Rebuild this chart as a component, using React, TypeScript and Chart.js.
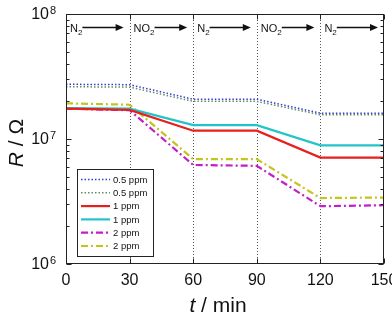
import React, { useEffect, useRef } from "react";
import { Chart, registerables } from "chart.js";
Chart.register(...registerables);

const times = [0, 30, 60, 90, 120, 150];
const blue05 = [2.74e7, 2.72e7, 2.08e7, 2.08e7, 1.61e7, 1.61e7];
const green05 = [2.62e7, 2.6e7, 2.0e7, 2.0e7, 1.56e7, 1.56e7];
const red1 = [1.75e7, 1.71e7, 1.165e7, 1.165e7, 7.1e6, 7.1e6];
const cyan1 = [1.77e7, 1.75e7, 1.29e7, 1.29e7, 8.9e6, 8.9e6];
const magenta2 = [1.75e7, 1.7e7, 6.2e6, 6.1e6, 2.9e6, 2.95e6];
const yellow2 = [1.93e7, 1.88e7, 6.9e6, 6.9e6, 3.37e6, 3.4e6];
const seriesLabels = ["0.5 ppm", "0.5 ppm", "1 ppm", "1 ppm", "2 ppm", "2 ppm"];
const xTicks = [0, 30, 60, 90, 120, 150];
const gridTimes = [30, 60, 90, 120];
const yExponents = [6, 7, 8];
const gasSteps = ["N", "NO", "N", "NO", "N"];
const stepStarts = [0, 30, 60, 90, 120];

const FONT = '"Liberation Sans", Arial, Helvetica, sans-serif';

const styles = [
  { color: "#3a3acc", width: 1.5, dash: [1.5, 2] },
  { color: "#5e8f64", width: 1.5, dash: [1.5, 2] },
  { color: "#e6201c", width: 2.2, dash: [] as number[] },
  { color: "#22c4c8", width: 2.2, dash: [] as number[] },
  { color: "#c41ec8", width: 2.2, dash: [7, 3, 2, 3] },
  { color: "#c4c41e", width: 2.2, dash: [7, 3, 2, 3] },
];

const seriesData = [blue05, green05, red1, cyan1, magenta2, yellow2];

const overlay = {
  id: "overlay",
  beforeDatasetsDraw(chart: any) {
    const { ctx, chartArea: a, scales } = chart;
    const x = scales.x;
    ctx.save();
    ctx.strokeStyle = "#555";
    ctx.lineWidth = 1;
    ctx.setLineDash([1, 2]);
    for (const t of gridTimes) {
      const px = Math.round(x.getPixelForValue(t)) + 0.5;
      ctx.beginPath();
      ctx.moveTo(px, a.top);
      ctx.lineTo(px, a.bottom);
      ctx.stroke();
    }
    ctx.restore();
  },
  afterDatasetsDraw(chart: any) {
    const { ctx, chartArea: a, scales } = chart;
    const x = scales.x;
    const y = scales.y;
    ctx.save();
    ctx.setLineDash([]);
    ctx.strokeStyle = "#222";
    ctx.lineWidth = 1;
    const L = Math.round(a.left) + 0.5;
    const R = Math.round(a.right) - 0.5;
    const T = Math.round(a.top) + 0.5;
    const B = Math.round(a.bottom) - 0.5;
    ctx.strokeRect(L, T, R - L, B - T);

    // x ticks
    ctx.beginPath();
    for (const t of xTicks) {
      const px = Math.round(x.getPixelForValue(t)) + 0.5;
      ctx.moveTo(px, B);
      ctx.lineTo(px, B - 5);
      ctx.moveTo(px, T);
      ctx.lineTo(px, T + 5);
    }
    // y ticks (major + minor)
    for (let e = 6; e < 8; e++) {
      for (let m = 1; m <= 9; m++) {
        const v = m * Math.pow(10, e);
        const py = Math.round(y.getPixelForValue(v)) + 0.5;
        const len = m === 1 ? 5 : 3;
        ctx.moveTo(L, py);
        ctx.lineTo(L + len, py);
        ctx.moveTo(R, py);
        ctx.lineTo(R - len, py);
      }
    }
    ctx.stroke();

    // x labels
    ctx.fillStyle = "#111";
    ctx.font = `16px ${FONT}`;
    ctx.textAlign = "center";
    ctx.textBaseline = "middle";
    for (const t of xTicks) {
      ctx.fillText(String(t), x.getPixelForValue(t), 281);
    }
    // y labels
    for (const e of yExponents) {
      const py = y.getPixelForValue(Math.pow(10, e));
      ctx.font = `16px ${FONT}`;
      ctx.textAlign = "right";
      ctx.textBaseline = "middle";
      ctx.fillText("10", 49, py + 1);
      ctx.font = `11px ${FONT}`;
      ctx.textAlign = "left";
      ctx.textBaseline = "alphabetic";
      ctx.fillText(String(e), 50, py);
    }

    // axis titles
    ctx.textBaseline = "alphabetic";
    ctx.font = `italic 21px ${FONT}`;
    const tW = ctx.measureText("t").width;
    ctx.font = `21px ${FONT}`;
    const restX = " / min";
    const rW = ctx.measureText(restX).width;
    const xStart = 218 - (tW + rW) / 2;
    ctx.font = `italic 21px ${FONT}`;
    ctx.textAlign = "left";
    ctx.fillText("t", xStart, 312);
    ctx.font = `21px ${FONT}`;
    ctx.fillText(restX, xStart + tW, 312);

    ctx.save();
    ctx.translate(23, 143);
    ctx.rotate(-Math.PI / 2);
    ctx.font = `italic 21px ${FONT}`;
    const rr = ctx.measureText("R").width;
    ctx.font = `21px ${FONT}`;
    const restY = " / Ω";
    const ry = ctx.measureText(restY).width;
    const ys = -(rr + ry) / 2;
    ctx.font = `italic 21px ${FONT}`;
    ctx.fillText("R", ys, 0);
    ctx.font = `21px ${FONT}`;
    ctx.fillText(restY, ys + rr, 0);
    ctx.restore();

    // gas annotations
    const ay = 27.5;
    ctx.fillStyle = "#111";
    ctx.strokeStyle = "#111";
    ctx.lineWidth = 1.5;
    stepStarts.forEach((s, i) => {
      const x0 = x.getPixelForValue(s) + 4;
      ctx.font = `11px ${FONT}`;
      ctx.textAlign = "left";
      ctx.textBaseline = "alphabetic";
      ctx.fillText(gasSteps[i], x0, ay + 4);
      const w = ctx.measureText(gasSteps[i]).width;
      ctx.font = `8px ${FONT}`;
      ctx.fillText("2", x0 + w, ay + 7);
      const w2 = ctx.measureText("2").width;
      const ax0 = x0 + w + w2;
      const ax1 = x.getPixelForValue(s + 30) - 6;
      ctx.beginPath();
      ctx.moveTo(ax0, ay);
      ctx.lineTo(ax1 - 7, ay);
      ctx.stroke();
      ctx.beginPath();
      ctx.moveTo(ax1, ay);
      ctx.lineTo(ax1 - 8, ay - 3.5);
      ctx.lineTo(ax1 - 8, ay + 3.5);
      ctx.closePath();
      ctx.fill();
    });

    // legend
    const lx = 77.5, lyTop = 169.5, lw = 76, lh = 87;
    ctx.fillStyle = "#fff";
    ctx.fillRect(lx, lyTop, lw, lh);
    ctx.strokeStyle = "#222";
    ctx.lineWidth = 1;
    ctx.setLineDash([]);
    ctx.strokeRect(lx, lyTop, lw, lh);
    chart.data.datasets.forEach((ds: any, i: number) => {
      const ry2 = 179.5 + i * 13.3;
      ctx.strokeStyle = ds.borderColor;
      ctx.lineWidth = ds.borderWidth;
      ctx.setLineDash(ds.borderDash || []);
      ctx.beginPath();
      ctx.moveTo(81, ry2);
      ctx.lineTo(110, ry2);
      ctx.stroke();
      ctx.setLineDash([]);
      ctx.fillStyle = "#111";
      ctx.font = `9.5px ${FONT}`;
      ctx.textAlign = "left";
      ctx.textBaseline = "middle";
      ctx.fillText(ds.label, 113, ry2 + 0.5);
    });
    ctx.restore();
  },
};

export default function App() {
  const ref = useRef<HTMLCanvasElement | null>(null);
  useEffect(() => {
    document.body.style.margin = "0";
    if (!ref.current) return;
    const chart = new Chart(ref.current, {
      type: "line",
      data: {
        datasets: seriesData.map((vals, i) => ({
          label: seriesLabels[i],
          data: times.map((t, j) => ({ x: t, y: vals[j] })),
          borderColor: styles[i].color,
          borderWidth: styles[i].width,
          borderDash: styles[i].dash,
          pointRadius: 0,
          fill: false,
          tension: 0,
        })),
      },
      options: {
        responsive: false,
        animation: false,
        layout: { padding: { left: 66, right: 8, top: 14, bottom: 56 } },
        plugins: { legend: { display: false }, tooltip: { enabled: false } },
        scales: {
          x: { type: "linear", min: 0, max: 150, display: false },
          y: { type: "logarithmic", min: 1e6, max: 1e8, display: false },
        },
      },
      plugins: [overlay],
    });
    return () => chart.destroy();
  }, []);
  return (
    <div style={{ position: "absolute", left: 0, top: 0, width: 392, height: 320, background: "#fff" }}>
      <canvas ref={ref} width={392} height={320} style={{ width: 392, height: 320 }} />
    </div>
  );
}
